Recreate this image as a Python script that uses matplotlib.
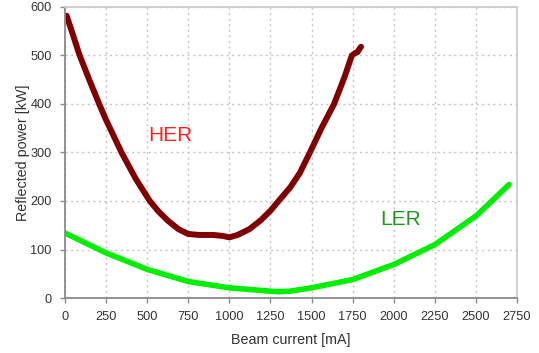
import matplotlib
matplotlib.use('Agg')
import matplotlib.pyplot as plt

plt.rcParams['font.family'] = ['Liberation Sans', 'DejaVu Sans']

# HER reflected power vs beam current
her_current = [10, 50, 87, 150, 208, 250, 344, 430, 516, 570, 627, 690, 749,
               816, 900, 960, 1000, 1050, 1122, 1190, 1250, 1307, 1370, 1429,
               1490, 1560, 1637, 1700, 1745, 1765, 1780, 1792, 1801]
her_power = [582, 541, 502, 448, 400, 367, 300, 246, 200, 178, 159, 142, 132,
             130, 130, 128, 125, 130, 142, 160, 180, 203, 228, 258,
             300, 350, 400, 455, 500, 505, 507, 514, 518]

# LER reflected power vs beam current
ler_current = [0, 250, 500, 750, 1000, 1250, 1300, 1368, 1500, 1750, 2000,
               2250, 2500, 2702]
ler_power = [134, 93, 59, 34, 21, 14, 13, 14, 21, 38, 69, 110, 169, 234]

xticks = list(range(0, 2751, 250))
yticks = list(range(0, 601, 100))

fig = plt.figure(figsize=(5.39, 3.53), dpi=100)
ax = fig.add_axes([0.1206, 0.1558, 0.8386, 0.8244])

ax.plot(her_current, her_power, color='#800000', linewidth=4.3,
        solid_capstyle='round', solid_joinstyle='round')
ax.plot(ler_current, ler_power, color='#00ee00', linewidth=4.0,
        solid_capstyle='round', solid_joinstyle='round')

ax.text(640, 335, 'HER', color='#ff2020', fontsize=15, ha='center', va='center')
ax.text(2040, 161, 'LER', color='#1a9a1a', fontsize=15, ha='center', va='center')

ax.set_xlim(0, 2750)
ax.set_ylim(0, 600)
ax.set_xticks(xticks)
ax.set_yticks(yticks)
ax.grid(True, linestyle=(0, (1.5, 2.5)), color='#c4c4c4', linewidth=1.0)
ax.set_axisbelow(True)

for side in ['left', 'bottom']:
    ax.spines[side].set_color('#8a8a8a')
    ax.spines[side].set_linewidth(1.3)
for side in ['top', 'right']:
    ax.spines[side].set_color('#cccccc')
    ax.spines[side].set_linewidth(1.3)

ax.tick_params(axis='both', colors='#8a8a8a', length=3.5, width=1,
               labelcolor='#333333', labelsize=9.2)
ax.tick_params(axis='x', pad=6)
ax.tick_params(axis='y', pad=6)

ax.set_xlabel('Beam current [mA]', fontsize=10.3, color='#333333', labelpad=7)
ax.set_ylabel('Reflected power [kW]', fontsize=10.3, color='#333333', labelpad=0)

fig.savefig('out.png', dpi=100)
